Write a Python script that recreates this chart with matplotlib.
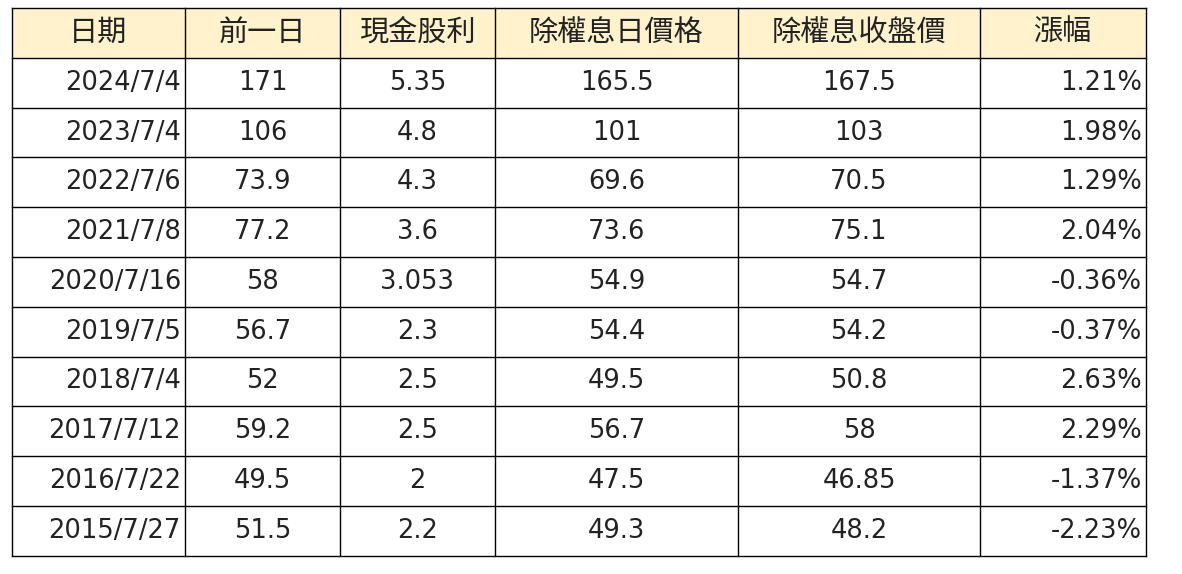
import matplotlib
matplotlib.use("Agg")
import matplotlib.pyplot as plt
from matplotlib.patches import Rectangle

headers = ["日期", "前一日", "現金股利", "除權息日價格", "除權息收盤價", "漲幅"]
dates = ["2024/7/4", "2023/7/4", "2022/7/6", "2021/7/8", "2020/7/16", "2019/7/5",
         "2018/7/4", "2017/7/12", "2016/7/22", "2015/7/27"]
prev_close = ["171", "106", "73.9", "77.2", "58", "56.7", "52", "59.2", "49.5", "51.5"]
dividend = ["5.35", "4.8", "4.3", "3.6", "3.053", "2.3", "2.5", "2.5", "2", "2.2"]
ex_price = ["165.5", "101", "69.6", "73.6", "54.9", "54.4", "49.5", "56.7", "47.5", "49.3"]
ex_close = ["167.5", "103", "70.5", "75.1", "54.7", "54.2", "50.8", "58", "46.85", "48.2"]
change = ["1.21%", "1.98%", "1.29%", "2.04%", "-0.36%", "-0.37%", "2.63%", "2.29%", "-1.37%", "-2.23%"]

cols = [dates, prev_close, dividend, ex_price, ex_close, change]
aligns = ["right", "center", "center", "center", "center", "right"]
xb = [12, 185, 340, 495, 738, 980, 1146]
top, rowh = 8, 49.8

fig = plt.figure(figsize=(11.82, 5.74), dpi=100)
ax = fig.add_axes([0, 0, 1, 1])
ax.set_xlim(0, 1182); ax.set_ylim(574, 0); ax.axis("off")

ax.add_patch(Rectangle((xb[0], top), xb[-1]-xb[0], rowh, facecolor="#FFF2CC", edgecolor="none"))
nrows = len(dates) + 1
for i in range(nrows + 1):
    ax.plot([xb[0], xb[-1]], [top + i*rowh]*2, color="black", lw=1)
for x in xb:
    ax.plot([x, x], [top, top + nrows*rowh], color="black", lw=1)

for j, h in enumerate(headers):
    ax.text((xb[j]+xb[j+1])/2, top + rowh/2, h, ha="center", va="center",
            fontsize=21, color="#222222", family=["Noto Sans CJK TC", "DejaVu Sans"])
for j, col in enumerate(cols):
    for i, v in enumerate(col):
        y = top + (i+1.5)*rowh
        if aligns[j] == "right":
            x, ha = xb[j+1] - 4, "right"
        else:
            x, ha = (xb[j]+xb[j+1])/2, "center"
        ax.text(x, y, v, ha=ha, va="center", fontsize=18.5, color="#222222", family="DejaVu Sans")

fig.savefig("out.png", dpi=100, facecolor="white")
